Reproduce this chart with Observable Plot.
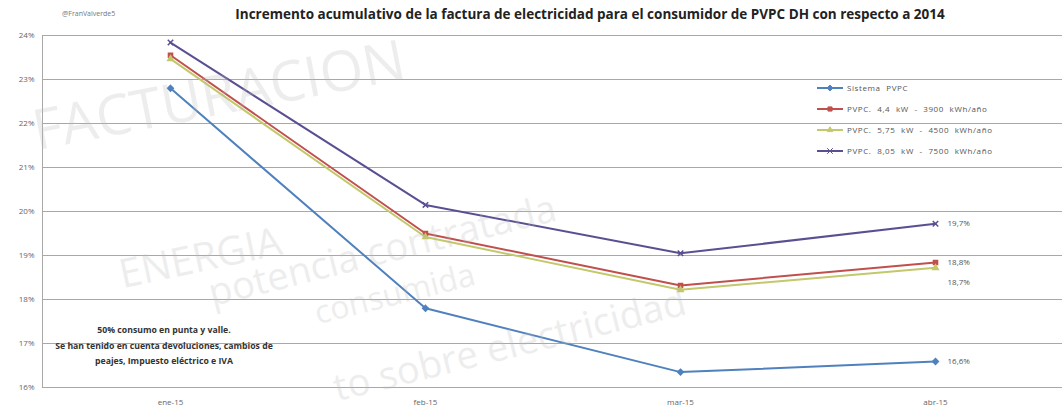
<!DOCTYPE html>
<html>
<head>
<meta charset="utf-8">
<script src="https://cdn.jsdelivr.net/npm/d3@7"></script>
<script src="https://cdn.jsdelivr.net/npm/@observablehq/plot@0.6"></script>
<style>
  html, body { margin: 0; padding: 0; background: #fff; }
  body { width: 1064px; height: 416px; position: relative; overflow: hidden; font-family: "Open Sans", "Noto Sans", sans-serif; }
  #head { position: relative; height: 28px; }
  #handle { position: absolute; left: 62px; top: 9px; font-size: 7px; color: #777; }
  #title { position: absolute; left: 0; width: 1180px; top: 5px; text-align: center; font-size: 13.5px; font-weight: bold; color: #222; letter-spacing: 0px; }
  #legend { position: absolute; left: 815px; top: 77px; font-size: 8px; color: #555; letter-spacing: 0.6px; word-spacing: 3px; }
  #legend .row { height: 21px; display: flex; align-items: center; }
  #legend svg { margin-right: 2px; }
  #note { position: absolute; left: 36px; top: 323px; width: 256px; text-align: center; font-size: 8.7px; font-weight: bold; color: #333; line-height: 15.5px; }
  .wm { position: absolute; color: #bbb; opacity: 0.25; font-weight: normal; white-space: nowrap; transform-origin: left bottom; pointer-events: none; }
</style>
</head>
<body>
<div id="head">
  <div id="handle">@FranValverde5</div>
  <div id="title">Incremento acumulativo de la factura de electricidad para el consumidor de PVPC DH con respecto a 2014</div>
</div>
<div id="chart"></div>
<div id="legend"></div>
<div id="note">50% consumo en punta y valle.<br>Se han tenido en cuenta devoluciones, cambios de<br>peajes, Impuesto eléctrico e IVA</div>
<div class="wm" style="left:40px;top:90px;font-size:56px;transform:rotate(-11deg);">FACTURACION</div>
<div class="wm" style="left:125px;top:245px;font-size:40px;transform:rotate(-12deg);">ENERGIA</div>
<div class="wm" style="left:215px;top:265px;font-size:38px;transform:rotate(-14deg);">potencia contratada</div>
<div class="wm" style="left:320px;top:290px;font-size:32px;transform:rotate(-14deg);">consumida</div>
<div class="wm" style="left:340px;top:360px;font-size:38px;transform:rotate(-14deg);">to sobre electricidad</div>
<script>
const months = ["ene-15", "feb-15", "mar-15", "abr-15"];
const seriesNames = [
  "Sistema PVPC",
  "PVPC. 4,4 kW - 3900 kWh/año",
  "PVPC. 5,75 kW - 4500 kWh/año",
  "PVPC. 8,05 kW - 7500 kWh/año"
];
const sistemaPVPC = [22.8, 17.8, 16.35, 16.59];
const pvpc44 = [23.55, 19.5, 18.32, 18.84];
const pvpc575 = [23.47, 19.42, 18.22, 18.72];
const pvpc805 = [23.84, 20.15, 19.05, 19.72];
const colors = ["#4f81bd", "#c0504d", "#c3c86a", "#5b4f92"];
const symbols = ["diamond2", "square2", "triangle2", "times"];
const labelDy = [0, 0, 15, 0];
const yTicks = [16, 17, 18, 19, 20, 21, 22, 23, 24];

const allValues = [sistemaPVPC, pvpc44, pvpc575, pvpc805];
const rows = [];
allValues.forEach((vals, si) => {
  vals.forEach((v, i) => rows.push({series: seriesNames[si], si, month: months[i], value: v, last: i === months.length - 1}));
});
const fmt = v => v.toFixed(1).replace(".", ",") + "%";

const marks = [
  Plot.gridY(yTicks, {stroke: "#a8a8a8", strokeOpacity: 1, strokeWidth: 1}),
  Plot.axisY(yTicks, {tickSize: 0, tickPadding: 8, tickFormat: d => d + "%", fontSize: 8, color: "#666", label: null}),
  Plot.axisX(months, {tickSize: 0, tickPadding: 12, fontSize: 8, color: "#666", label: null}),
  Plot.frame({anchor: "left", stroke: "#a8a8a8"})
];
seriesNames.forEach((name, si) => {
  const data = rows.filter(d => d.si === si);
  marks.push(Plot.line(data, {x: "month", y: "value", stroke: colors[si], strokeWidth: 2}));
  marks.push(Plot.dot(data, {x: "month", y: "value", symbol: symbols[si], fill: colors[si], stroke: colors[si], r: 2.6}));
  marks.push(Plot.text(data.filter(d => d.last), {x: "month", y: "value", text: d => fmt(d.value), dx: 12, dy: labelDy[si], textAnchor: "start", fontSize: 8, fill: "#555"}));
});

const chart = Plot.plot({
  width: 1064,
  height: 388,
  marginLeft: 42,
  marginRight: 2,
  marginTop: 7,
  marginBottom: 29,
  style: {fontFamily: "'Open Sans', 'Noto Sans', sans-serif", background: "transparent"},
  x: {type: "point", domain: months, padding: 0.5, axis: null},
  y: {domain: [16, 24], axis: null},
  marks
});
document.getElementById("chart").appendChild(chart);

// legend
const legend = document.getElementById("legend");
const symbolMap = {diamond2: d3.symbolDiamond2, square2: d3.symbolSquare2, triangle2: d3.symbolTriangle2, times: d3.symbolTimes};
seriesNames.forEach((name, si) => {
  const row = document.createElement("div");
  row.className = "row";
  const sym = d3.create("svg").attr("width", 30).attr("height", 10);
  sym.append("line").attr("x1", 2).attr("x2", 28).attr("y1", 5).attr("y2", 5).attr("stroke", colors[si]).attr("stroke-width", 2);
  sym.append("path").attr("transform", "translate(15,5)").attr("d", d3.symbol(symbolMap[symbols[si]], 22)()).attr("fill", colors[si]).attr("stroke", colors[si]);
  row.appendChild(sym.node());
  const span = document.createElement("span");
  span.textContent = name;
  row.appendChild(span);
  legend.appendChild(row);
});
</script>
</body>
</html>
